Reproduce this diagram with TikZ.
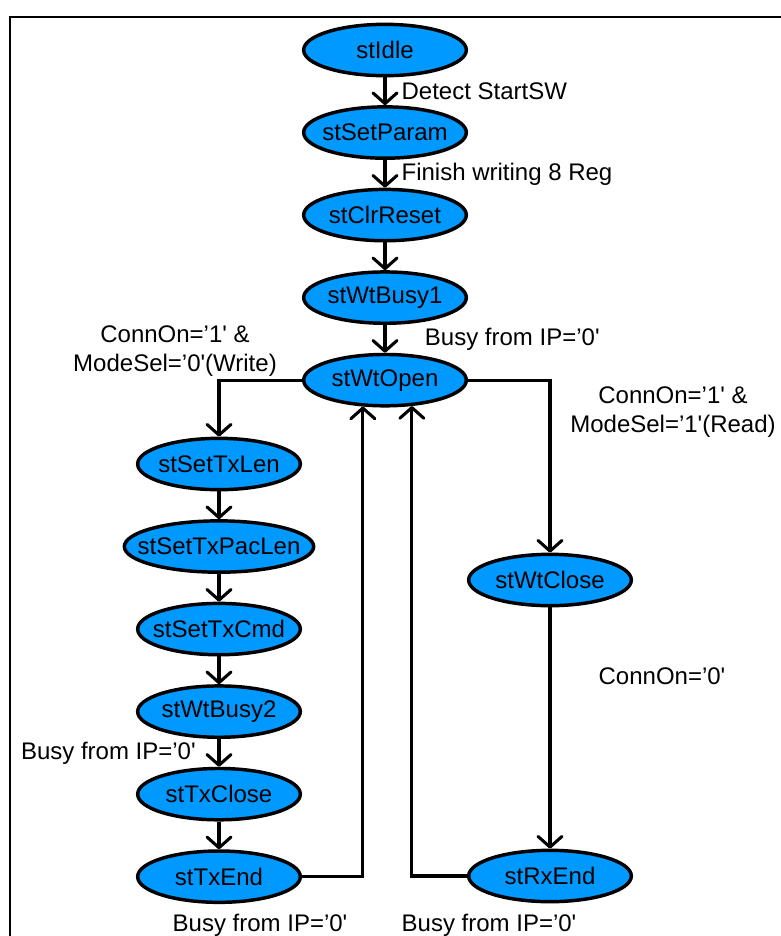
\documentclass[tikz,border=0pt]{standalone}
\usepackage{fontspec}
\setmainfont{Liberation Sans}
\usetikzlibrary{positioning,shapes,arrows.meta}
\definecolor{stateblue}{RGB}{0,153,255}
\newcommand{\sq}{\textquotesingle}
\tikzstyle{state} = [draw, ellipse, fill=stateblue, line width=2.6pt, minimum width=122pt, minimum height=38.5pt, inner sep=0pt, font=\fontsize{18}{21.6}\selectfont]
\tikzstyle{line} = [draw, line width=2.3pt, -{Straight Barb[length=8pt, width=18pt, round]}]
\tikzstyle{cond} = [align=center, font=\fontsize{18}{21.6}\selectfont]

\begin{document}
\begin{tikzpicture}[x=0.75pt, y=0.75pt, node distance=61.9pt, auto]
    \useasboundingbox (0,0) rectangle (781,-936);
    \draw [line width=2pt] (10,-945) -- (10,-17) -- (790,-17);

    % Place nodes
    \node [state] (idle) at (385,-50) {\makebox[0pt]{stIdle}};
    \node [state, below of=idle] (set-param) {\makebox[0pt]{stSetParam}};
    \node [state, below of=set-param] (clr-reset) {\makebox[0pt]{stClrReset}};
    \node [state, below of=clr-reset] (wt-busy1) {\makebox[0pt]{stWtBusy1}};
    \node [state, below of=wt-busy1] (wt-open) {\makebox[0pt]{stWtOpen}};
    \node [state] (set-tx-len) at (219,-464) {\makebox[0pt]{stSetTxLen}};
    \node [state, below of=set-tx-len, minimum width=142pt] (set-tx-pac-len) {\makebox[0pt]{stSetTxPacLen}};
    \node [state, below of=set-tx-pac-len] (set-tx-cmd) {\makebox[0pt]{stSetTxCmd}};
    \node [state, below of=set-tx-cmd] (wt-busy2) {\makebox[0pt]{stWtBusy2}};
    \node [state, below of=wt-busy2] (tx-close) {\makebox[0pt]{stTxClose}};
    \node [state, below of=tx-close] (tx-end) {\makebox[0pt]{stTxEnd}};
    \node [state] (wt-close) at (550,-580) {\makebox[0pt]{stWtClose}};
    \node [state] (rx-end) at (550,-876) {\makebox[0pt]{stRxEnd}};

    % Conditions
    \node [cond] (write-cond) at (175,-351) {ConnOn=’1\sq{} \&\\ModeSel=’0\sq(Write)};
    \node [cond] (read-cond) at (673,-412) {ConnOn=’1\sq{} \&\\ModeSel=’1\sq(Read)};
    \node [cond] (close-cond) at (662,-676) {ConnOn=’0\sq};
    \node [cond] (tx-busy) at (260,-925) {Busy from IP=’0\sq};
    \node [cond] (rx-busy) at (489,-925) {Busy from IP=’0\sq};

    % Draw edges
    \path [line] (idle) -- node [cond, right, xshift=8pt] {Detect StartSW} (set-param);
    \path [line] (set-param) -- node [cond, right, xshift=8pt] {Finish writing 8 Reg} (clr-reset);
    \path [line] (clr-reset) -- (wt-busy1);
    \path [line] (wt-busy1) -- node [cond, right, xshift=25.5pt] {Busy from IP=’0\sq} (wt-open);
    \path [line] (wt-open) -| (set-tx-len);
    \path [line] (wt-open) -| (wt-close);
    \path [line] (set-tx-len) -- (set-tx-pac-len);
    \path [line] (set-tx-pac-len) -- (set-tx-cmd);
    \path [line] (set-tx-cmd) -- (wt-busy2);
    \path [line] (wt-busy2) -- node [cond, left, xshift=-13pt] {Busy from IP=’0\sq} (tx-close);
    \path [line] (tx-close) -- (tx-end);
    \path [line] (tx-end) -| (wt-open.230);
    \path [line] (wt-close) -- (rx-end);
    \path [line] (rx-end) -| (wt-open.316);
\end{tikzpicture}
\end{document}
